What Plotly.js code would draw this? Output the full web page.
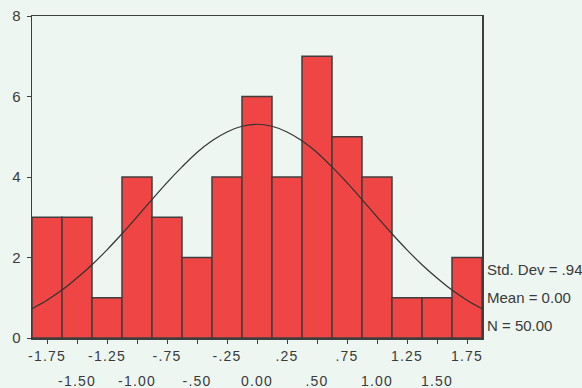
<!DOCTYPE html>
<html>
<head>
<meta charset="utf-8">
<script src="https://cdn.plot.ly/plotly-3.0.1.min.js"></script>
<style>
html,body{margin:0;padding:0;background:#eef6f2;}
#chart{width:582px;height:388px;}
.xtick text, .x2tick text {letter-spacing: 1.2px;}
</style>
</head>
<body>
<div id="chart"></div>
<script>
// Histogram bins (centers) and counts
const binCenters = [-1.75, -1.5, -1.25, -1.0, -0.75, -0.5, -0.25, 0.0, 0.25, 0.5, 0.75, 1.0, 1.25, 1.5, 1.75];
const counts     = [3, 3, 1, 4, 3, 2, 4, 6, 4, 7, 5, 4, 1, 1, 2];
const tickLabels = ["-1.75", "-1.50", "-1.25", "-1.00", "-.75", "-.50", "-.25", "0.00", ".25", ".50", ".75", "1.00", "1.25", "1.50", "1.75"];

// Normal curve
const curveX = [-1.875, -1.75, -1.625, -1.5, -1.375, -1.25, -1.125, -1.0, -0.875, -0.75, -0.625, -0.5, -0.375, -0.25, -0.125, 0.0,
                0.125, 0.25, 0.375, 0.5, 0.625, 0.75, 0.875, 1.0, 1.125, 1.25, 1.375, 1.5, 1.625, 1.75, 1.875];
const curveY = [0.73, 0.94, 1.19, 1.49, 1.82, 2.19, 2.59, 3.01, 3.44, 3.86, 4.25, 4.61, 4.90, 5.12, 5.26, 5.31,
                5.26, 5.12, 4.90, 4.61, 4.25, 3.86, 3.44, 3.01, 2.59, 2.19, 1.82, 1.49, 1.19, 0.94, 0.73];

const statLines = ["Std. Dev = .94", "Mean = 0.00", "N = 50.00"];
const statY = [1.7, 1.0, 0.3];

const font = {family: "Liberation Sans, Arial, sans-serif", size: 15, color: "#3a3a3a"};
const xFont = {family: "Liberation Sans, Arial, sans-serif", size: 14, color: "#3a3a3a"};
const lineCol = "#3f3f3f";

// row 1: odd positions; row 2: even positions
const row1Text = tickLabels.map((t, i) => i % 2 === 0 ? t : "");
const row2Vals = binCenters.filter((v, i) => i % 2 === 1);
const row2Text = tickLabels.filter((t, i) => i % 2 === 1);

const data = [
  {
    type: "bar",
    x: binCenters,
    y: counts,
    width: 0.25,
    marker: {color: "#ef4545", line: {color: lineCol, width: 1.5}},
    hoverinfo: "skip"
  },
  {
    type: "scatter",
    mode: "lines",
    x: curveX,
    y: curveY,
    line: {color: "#333333", width: 1.2, shape: "spline"},
    hoverinfo: "skip"
  },
  {
    type: "scatter",
    mode: "none",
    x: [binCenters[0]],
    y: [0],
    xaxis: "x2",
    yaxis: "y",
    hoverinfo: "skip"
  }
];

const layout = {
  width: 582,
  height: 388,
  margin: {l: 32, r: 100, t: 16, b: 50},
  paper_bgcolor: "#eef6f2",
  plot_bgcolor: "#eef6f2",
  showlegend: false,
  font: font,
  bargap: 0,
  xaxis: {
    range: [-1.875, 1.875],
    tickvals: binCenters,
    ticktext: row1Text,
    tickangle: 0,
    ticks: "outside",
    ticklen: 4,
    tickcolor: lineCol,
    ticklabelstandoff: 1,
    showline: true,
    mirror: true,
    linecolor: lineCol,
    linewidth: 1.5,
    showgrid: false,
    zeroline: false,
    tickfont: xFont,
    fixedrange: true
  },
  xaxis2: {
    overlaying: "x",
    matches: "x",
    side: "bottom",
    anchor: "y",
    range: [-1.875, 1.875],
    tickvals: row2Vals,
    ticktext: row2Text,
    tickangle: 0,
    ticks: "outside",
    ticklen: 4,
    tickcolor: "rgba(0,0,0,0)",
    ticklabelstandoff: 26,
    showline: false,
    showgrid: false,
    zeroline: false,
    tickfont: xFont,
    fixedrange: true
  },
  yaxis: {
    range: [0, 8],
    tickvals: [0, 2, 4, 6, 8],
    ticks: "outside",
    ticklen: 4,
    tickcolor: lineCol,
    ticklabelstandoff: 3,
    showline: true,
    mirror: true,
    linecolor: lineCol,
    linewidth: 1.5,
    showgrid: false,
    zeroline: false,
    tickfont: font,
    fixedrange: true
  },
  annotations: statLines.map((t, i) => ({
    text: t,
    xref: "paper",
    yref: "y",
    x: 1,
    y: statY[i],
    xanchor: "left",
    yanchor: "middle",
    xshift: 3,
    showarrow: false,
    font: font
  }))
};

Plotly.newPlot("chart", data, layout, {displayModeBar: false, staticPlot: true});
</script>
</body>
</html>
